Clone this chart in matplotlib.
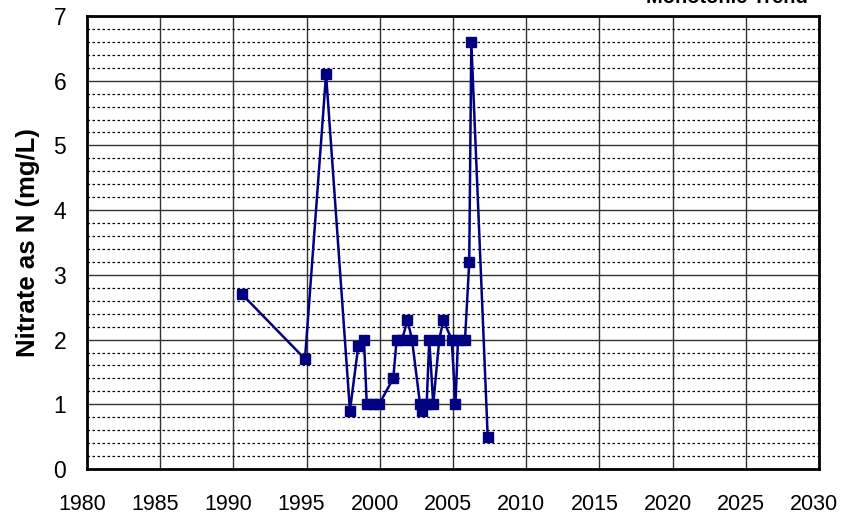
import numpy as np
import matplotlib
matplotlib.use("Agg")
import matplotlib.pyplot as plt
from matplotlib.ticker import MultipleLocator
from matplotlib.transforms import ScaledTranslation

# sample dates (decimal years) and nitrate values
years = [1990.59, 1994.89, 1996.33, 1997.96, 1998.53, 1998.92, 1999.11, 1999.56,
         1999.95, 2000.92, 2001.15, 2001.52, 2001.89, 2002.20, 2002.75, 2002.86,
         2003.20, 2003.38, 2003.65, 2004.06, 2004.34, 2004.91, 2005.17, 2005.34,
         2005.82, 2006.11, 2006.25, 2007.37]
nitrate = [2.7, 1.7, 6.1, 0.9, 1.9, 2.0, 1.0, 1.0,
           1.0, 1.4, 2.0, 2.0, 2.3, 2.0, 1.0, 0.9,
           1.0, 2.0, 1.0, 2.0, 2.3, 2.0, 1.0, 2.0,
           2.0, 3.2, 6.6, 0.5]

x_ticks = list(range(1980, 2031, 5))
y_ticks = list(range(0, 8))

font = ["Liberation Sans", "DejaVu Sans"]

fig = plt.figure(figsize=(8.42, 5.15), dpi=100)
ax = fig.add_axes([87 / 842, 1 - 469 / 515, (819 - 87) / 842, (469 - 16) / 515])

ax.set_xlim(1980, 2030)
ax.set_ylim(0, 7)
ax.set_xticks(x_ticks)
ax.set_yticks(y_ticks)
ax.yaxis.set_minor_locator(MultipleLocator(0.2))

ax.grid(which="major", axis="both", color="#333333", linewidth=1.0, linestyle="-")
ax.grid(which="minor", axis="y", color="black", linewidth=0.9, linestyle=(0, (2, 2)))
ax.set_axisbelow(True)

ax.plot(years, nitrate, color="#000080", linewidth=1.8, marker="s",
        markersize=7.3, markerfacecolor="#000080", markeredgecolor="#000080",
        zorder=3)

for s in ax.spines.values():
    s.set_linewidth(2.0)
    s.set_color("black")

ax.tick_params(which="both", length=0)
ax.tick_params(axis="y", pad=15)
ax.tick_params(axis="x", pad=18)
shift = ScaledTranslation(-5 / 100, 0, fig.dpi_scale_trans)
for lab in ax.get_xticklabels():
    lab.set_family(font)
    lab.set_fontsize(15.5)
    lab.set_transform(lab.get_transform() + shift)
for lab in ax.get_yticklabels():
    lab.set_family(font)
    lab.set_fontsize(16.5)

ax.set_ylabel("Nitrate as N (mg/L)", family=font, fontsize=18.5,
              fontweight="bold", labelpad=10)

# title line sitting mostly above the visible canvas
fig.text(808 / 842, 1 - 3 / 515, "Monotonic Trend", family=font,
         fontsize=14.5, fontweight="bold", ha="right", va="baseline")

fig.savefig("out.png", dpi=100)
